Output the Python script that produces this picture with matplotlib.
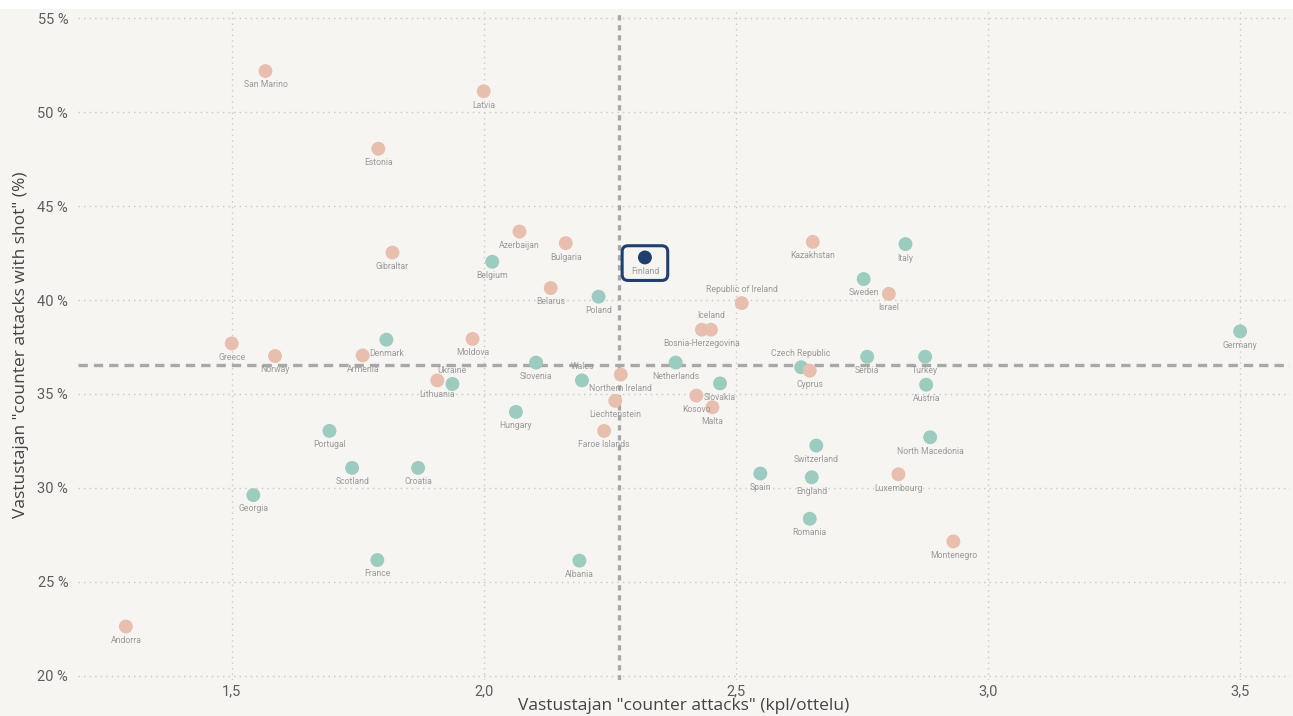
import matplotlib
matplotlib.use("Agg")
import matplotlib.pyplot as plt
from matplotlib.patches import FancyBboxPatch
from matplotlib import transforms

# Data
countries = ["San Marino", "Estonia", "Latvia", "Gibraltar", "Greece", "Norway", "Denmark",
             "Armenia", "Lithuania", "Ukraine", "Portugal", "Scotland", "Croatia", "Georgia",
             "France", "Andorra", "Azerbaijan", "Bulgaria", "Belgium", "Finland", "Kazakhstan",
             "Belarus", "Poland", "Republic of Ireland", "Iceland", "Bosnia-Herzegovina",
             "Moldova", "Slovenia", "Wales", "Northern Ireland", "Netherlands", "Czech Republic",
             "Cyprus", "Slovakia", "Kosovo", "Malta", "Liechtenstein", "Hungary", "Faroe Islands",
             "Switzerland", "Spain", "England", "Romania", "Albania", "Italy", "Sweden", "Israel",
             "Serbia", "Turkey", "Austria", "North Macedonia", "Germany", "Luxembourg", "Montenegro"]
counter_attacks = [1.567, 1.791, 2.000, 1.819, 1.500, 1.586, 1.807,
                   1.760, 1.908, 1.938, 1.694, 1.739, 1.870, 1.543,
                   1.789, 1.290, 2.071, 2.163, 2.017, 2.320, 2.653,
                   2.133, 2.228, 2.512, 2.451, 2.433,
                   1.978, 2.104, 2.195, 2.272, 2.381, 2.630,
                   2.647, 2.469, 2.422, 2.454, 2.261, 2.064, 2.239,
                   2.660, 2.549, 2.651, 2.647, 2.190, 2.837, 2.754, 2.804,
                   2.761, 2.876, 2.878, 2.886, 3.501, 2.823, 2.932]
shot_pct = [52.20, 48.06, 51.12, 42.53, 37.69, 37.02, 37.89,
            37.05, 35.72, 35.53, 33.03, 31.06, 31.06, 29.61,
            26.15, 22.61, 43.65, 43.03, 42.04, 42.27, 43.10,
            40.64, 40.18, 39.84, 38.42, 38.42,
            37.93, 36.67, 35.72, 36.03, 36.67, 36.42,
            36.24, 35.56, 34.91, 34.29, 34.63, 34.04, 33.03,
            32.25, 30.76, 30.56, 28.35, 26.12, 42.98, 41.12, 40.33,
            36.98, 36.98, 35.49, 32.69, 38.33, 30.72, 27.14]
# 's' = salmon group, 't' = teal group, 'f' = Finland (highlighted)
group = ["s", "s", "s", "s", "s", "s", "t",
         "s", "s", "t", "t", "t", "t", "t",
         "t", "s", "s", "s", "t", "f", "s",
         "s", "t", "s", "s", "s",
         "s", "t", "t", "s", "t", "t",
         "s", "t", "s", "s", "s", "t", "s",
         "t", "t", "t", "t", "t", "t", "t", "s",
         "t", "t", "t", "t", "t", "s", "s"]
labels_above = ["Ukraine", "Wales", "Iceland", "Republic of Ireland", "Czech Republic"]

avg_x = 2.268
avg_y = 36.52

x_ticks = [1.5, 2.0, 2.5, 3.0, 3.5]
y_ticks = [20, 25, 30, 35, 40, 45, 50, 55]

colors = {"s": "#e8bfae", "t": "#9ccbbf", "f": "#1f3f6e"}
bg = "#f6f5f1"

fig = plt.figure(figsize=(12.93, 7.16), dpi=100, facecolor=bg)
ax = fig.add_axes([0.0603, 0.05, 0.9374, 0.936])
ax.set_facecolor(bg)
fig.add_artist(plt.Rectangle((0, 0.9875), 1, 0.02, transform=fig.transFigure,
                             facecolor="white", edgecolor="none", zorder=0))

ax.set_xlim(1.195, 3.6)
ax.set_ylim(19.75, 55.45)

ax.set_xticks(x_ticks)
ax.set_xticklabels([f"{t:.1f}".replace(".", ",") for t in x_ticks])
ax.set_yticks(y_ticks)
ax.set_yticklabels([f"{t} %" for t in y_ticks])
ax.tick_params(length=0, labelsize=10.5, labelcolor="#5e5e5e", pad=7)
for lab in ax.get_xticklabels() + ax.get_yticklabels():
    lab.set_family("Roboto")
ax.tick_params(axis="x", pad=3)

for sp in ax.spines.values():
    sp.set_visible(False)
ax.grid(True, linestyle=(0, (1, 3)), color="#c8c8c8", linewidth=1)
ax.set_axisbelow(True)

ax.axvline(avg_x, color="#a8a8a8", linewidth=2.4, linestyle=(0, (1.6, 1.4)), zorder=1)
ax.axhline(avg_y, color="#a8a8a8", linewidth=2.4, linestyle=(0, (2.8, 1.8)), zorder=1)

for name, x, y, g in zip(countries, counter_attacks, shot_pct, group):
    ax.scatter(x, y, s=100, color=colors[g], edgecolors="none", zorder=3)
    dy = 10 if name in labels_above else -10
    ax.annotate(name, (x, y), xytext=(0, dy), textcoords="offset points",
                ha="center", va="center", fontsize=6.2, color="#9a9a9a",
                family="Roboto", zorder=4)

# highlight box around Finland
fi = countries.index("Finland")
trans = fig.dpi_scale_trans + transforms.ScaledTranslation(
    counter_attacks[fi], shot_pct[fi], ax.transData)
box = FancyBboxPatch((-0.228, -0.23), 0.456, 0.347, transform=trans,
                     boxstyle="round,pad=0,rounding_size=0.06",
                     facecolor="none", edgecolor="#1f3f6e", linewidth=2.2, zorder=5)
ax.add_patch(box)

ax.set_xlabel('Vastustajan "counter attacks" (kpl/ottelu)', fontsize=12.5,
              color="#444444", family="Open Sans", labelpad=0)
ax.set_ylabel('Vastustajan "counter attacks with shot" (%)', fontsize=12.5,
              color="#444444", family="Open Sans", labelpad=6)

fig.savefig("out.png", dpi=100, facecolor=bg)
